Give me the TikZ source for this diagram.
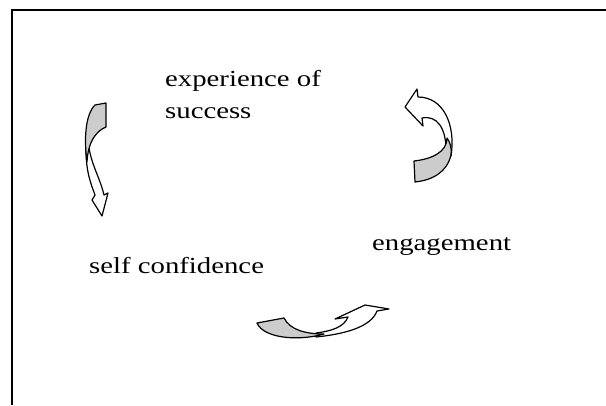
\documentclass[tikz,border=0pt]{standalone}
\usepackage{fontspec}
\setmainfont{Liberation Serif}[FakeStretch=1.25]
\begin{document}
\begin{tikzpicture}[x=1pt,y=-1pt,
  lbl/.style={anchor=base west,inner sep=0pt,font=\fontsize{23}{32}\selectfont},
  back/.style={draw=black,line width=1.2pt,fill=gray!40,line join=round},
  front/.style={draw=black,line width=1.2pt,fill=white,line join=round}]
\useasboundingbox (0,0) rectangle (606,405);
% frame
\coordinate (ftr) at (606,10);
\coordinate (ftl) at (12,10);
\coordinate (fbl) at (12,405);
\draw[line width=1.8pt] (ftr) -- (ftl) -- (fbl);
% labels
\node[lbl] (exp1) at (165,86) {experience of};
\node[lbl] (exp2) at (165,118) {success};
\node[lbl] (self) at (89,273) {self confidence};
\node[lbl] (eng) at (372,250) {engagement};
% left arrow (down)
\draw[front] (86,150) .. controls (86,172) and (91,184) .. (95,195)
  -- (92,200) -- (102,216) -- (108,193) -- (104,195)
  .. controls (100,178) and (92,166) .. (89,148) -- cycle;
\draw[back] (95,105) -- (106,103) -- (106,127)
  .. controls (96,131) and (88,142) .. (87,162)
  .. controls (84,140) and (85,115) .. (95,105) -- cycle;
% right arrow (up-left)
\draw[front] (451,156) .. controls (456,124) and (443,97) .. (418,97)
  -- (417,89) -- (405,107) -- (423,126) -- (422,118)
  .. controls (437,115) and (446,128) .. (446,150) -- cycle;
\draw[back] (414,161) -- (415,182)
  .. controls (433,180) and (447,172) .. (451,155)
  .. controls (452,148) and (450,142) .. (447,138)
  .. controls (447,152) and (432,159) .. (414,161) -- cycle;
% bottom arrow (up-right)
\draw[front] (316,337) .. controls (345,334) and (371,327) .. (377,311)
  -- (389,309) -- (365,305) -- (335,319) -- (348,317)
  .. controls (344,327) and (332,331) .. (316,333) -- cycle;
\draw[back] (257,323) -- (284,318)
  .. controls (290,330) and (306,334) .. (324,334)
  .. controls (300,341) and (264,339) .. (257,323) -- cycle;
\end{tikzpicture}
\end{document}
